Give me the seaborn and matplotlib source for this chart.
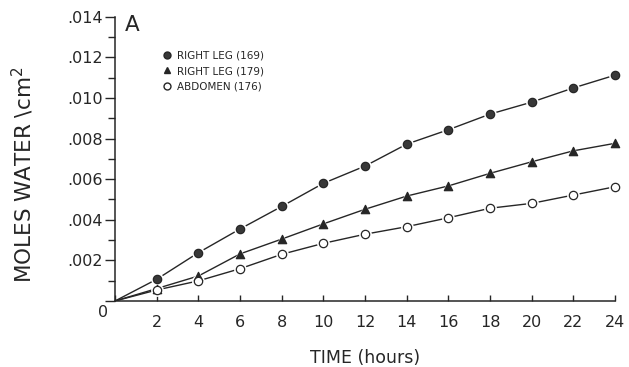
import matplotlib
matplotlib.use("Agg")
import matplotlib.pyplot as plt
import matplotlib.transforms as mtransforms
from matplotlib.lines import Line2D
from matplotlib.ticker import MultipleLocator, FuncFormatter
import seaborn as sns
import pandas as pd

hours = [0, 2, 4, 6, 8, 10, 12, 14, 16, 18, 20, 22, 24]
right_leg_169 = [0, 0.00107, 0.00238, 0.00355, 0.00466, 0.00580, 0.00665, 0.00773,
                 0.00844, 0.00921, 0.00980, 0.01050, 0.01113]
right_leg_179 = [0, 0.00061, 0.00123, 0.00232, 0.00305, 0.00380, 0.00452, 0.00517,
                 0.00567, 0.00629, 0.00686, 0.00740, 0.00777]
abdomen_176 = [0, 0.00054, 0.00099, 0.00159, 0.00230, 0.00284, 0.00329, 0.00366,
               0.00410, 0.00457, 0.00481, 0.00522, 0.00563]
labels = ["RIGHT LEG (169)", "RIGHT LEG (179)", "ABDOMEN (176)"]

df = pd.concat([
    pd.DataFrame({"hours": hours, "moles": vals, "site": lab})
    for vals, lab in zip([right_leg_169, right_leg_179, abdomen_176], labels)
])

sns.set_style("white")
plt.rcParams["font.family"] = ["DejaVu Sans"]
ink = "#262626"

fig = plt.figure(figsize=(6.29, 3.67), dpi=100)
ax = fig.add_axes([0.183, 0.18, 0.795, 0.774])

# lines through the origin
sns.lineplot(data=df, x="hours", y="moles", units="site", estimator=None,
             color=ink, linewidth=1.0, ax=ax, legend=False)

marker_style = {
    labels[0]: dict(marker="o", facecolor="#383838"),
    labels[1]: dict(marker="^", facecolor=ink),
    labels[2]: dict(marker="o", facecolor="white"),
}
for lab in labels:
    sub = df[(df["site"] == lab) & (df["hours"] > 0)]
    st = marker_style[lab]
    # white halo so the line breaks around each marker
    sns.scatterplot(data=sub, x="hours", y="moles", marker=st["marker"], s=85,
                    color="white", edgecolor="white", linewidth=0, ax=ax,
                    legend=False, zorder=3, clip_on=False)
    sns.scatterplot(data=sub, x="hours", y="moles", marker=st["marker"], s=36,
                    color=st["facecolor"], edgecolor=ink,
                    linewidth=0.9, ax=ax, legend=False, zorder=4, clip_on=False)

ax.set_xlim(0, 24)
ax.set_ylim(0, 0.014)
ax.xaxis.set_major_locator(MultipleLocator(2))
ax.yaxis.set_major_locator(MultipleLocator(0.002))
ax.yaxis.set_minor_locator(MultipleLocator(0.001))
ax.xaxis.set_major_formatter(FuncFormatter(lambda v, p: "" if v == 0 else f"{int(v)}"))
ax.yaxis.set_major_formatter(
    FuncFormatter(lambda v, p: "0" if abs(v) < 1e-9 else f"{v:.3f}".lstrip("0")))

for s in ["top", "right"]:
    ax.spines[s].set_visible(False)
for s in ["left", "bottom"]:
    ax.spines[s].set_color(ink)
    ax.spines[s].set_linewidth(1.1)

ax.tick_params(axis="y", which="major", direction="out", length=7, width=1,
               color=ink, labelsize=11.5, labelcolor=ink, left=True, pad=2)
ax.tick_params(axis="y", which="minor", direction="out", length=5, width=1,
               color=ink, left=True)
ax.tick_params(axis="x", which="major", direction="in", length=4, width=1,
               color=ink, labelsize=11.5, labelcolor=ink, bottom=True, pad=10)

# the "0" sits a little below and right of the origin tick
fig.canvas.draw()
for t in ax.get_yticklabels():
    if t.get_text() == "0":
        t.set_transform(t.get_transform() +
                        mtransforms.ScaledTranslation(4 / 72, -7 / 72, fig.dpi_scale_trans))

ax.set_xlabel("TIME (hours)", fontsize=12.5, color=ink, labelpad=14)
ax.set_ylabel("MOLES WATER \\cm$^2$", fontsize=15.5, color=ink)
ax.yaxis.set_label_coords(-0.158, 0.445)

ax.text(0.45, 0.0136, "A", fontsize=15.5, color=ink, va="center")

handles = [
    Line2D([], [], linestyle="none", marker="o", markersize=5,
           markerfacecolor="#383838", markeredgecolor=ink),
    Line2D([], [], linestyle="none", marker="^", markersize=5,
           markerfacecolor=ink, markeredgecolor=ink),
    Line2D([], [], linestyle="none", marker="o", markersize=5,
           markerfacecolor="white", markeredgecolor=ink),
]
ax.legend(handles, labels, loc="upper left", bbox_to_anchor=(0.085, 0.895),
          frameon=False, fontsize=7.5, handletextpad=0.45, labelspacing=0.5,
          borderaxespad=0, handlelength=1.0, labelcolor=ink)

fig.savefig("out.png", dpi=100)
